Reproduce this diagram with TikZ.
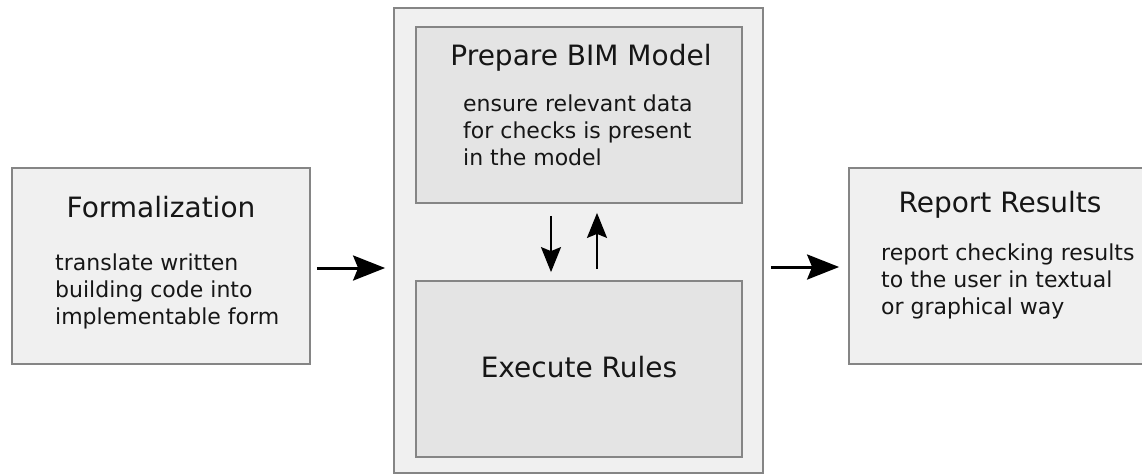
\documentclass[tikz,border=0pt]{standalone}
\usepackage{fontspec}
\setmainfont{DejaVu Sans}
\usetikzlibrary{arrows.meta}
\definecolor{boxfill}{HTML}{F0F0F0}
\definecolor{innerfill}{HTML}{E4E4E4}
\definecolor{boxline}{HTML}{858585}
\definecolor{txt}{HTML}{161616}
\tikzset{
  box/.style={draw=boxline, line width=1.8pt, fill=boxfill, inner sep=0pt},
  innerbox/.style={box, fill=innerfill},
  title/.style={text=txt, font=\fontsize{28}{33}\selectfont, inner sep=0pt, anchor=base},
  body/.style={text=txt, font=\fontsize{22}{27}\selectfont, inner sep=0pt, align=left, anchor=base west},
  bigarr/.style={line width=3pt, -{Stealth[length=32pt,width=25pt,inset=5pt]}},
  smallarr/.style={line width=2pt, -{Stealth[length=25pt,width=20pt,inset=4pt]}}
}
\begin{document}
\begin{tikzpicture}[x=1pt,y=-1pt]
\useasboundingbox (0,0) rectangle (1142,475);
\fill[white] (0,0) rectangle (1142,475);
% boxes
\node[box, minimum width=298pt, minimum height=196pt] (form) at (161,266) {};
\node[box, minimum width=369pt, minimum height=465pt] (outer) at (578.5,240.5) {};
\node[innerbox, minimum width=326pt, minimum height=176pt] (prep) at (579,115) {};
\node[innerbox, minimum width=326pt, minimum height=176pt] (exec) at (579,369) {};
\node[box, minimum width=296pt, minimum height=196pt] (rep) at (997,266) {};
% texts (body nodes anchored at the baseline of their last line)
\node[title] (formt) at (161,217) {Formalization};
\node[body] (formb) at (55,324) {translate written\\building code into\\implementable form};
\node[title] (prept) at (581,65) {Prepare BIM Model};
\node[body] (prepb) at (463,165) {ensure relevant data\\for checks is present\\in the model};
\node[title] (exect) at (579,377) {Execute Rules};
\node[title] (rept) at (1000,212) {Report Results};
\node[body] (repb) at (881,314) {report checking results\\to the user in textual\\or graphical way};
% arrows
\draw[bigarr] ([shift={(6,2)}]form.east) -- ([shift={(-8,2)}]outer.west |- form.east);
\draw[bigarr] ([shift={(7,1)}]outer.east |- rep.west) -- ([shift={(-9,1)}]rep.west);
\draw[smallarr] ([shift={(-28,12)}]prep.south) -- ([shift={(-28,-8)}]exec.north);
\draw[smallarr] ([shift={(18,-11)}]exec.north) -- ([shift={(18,9)}]prep.south);
\end{tikzpicture}
\end{document}
